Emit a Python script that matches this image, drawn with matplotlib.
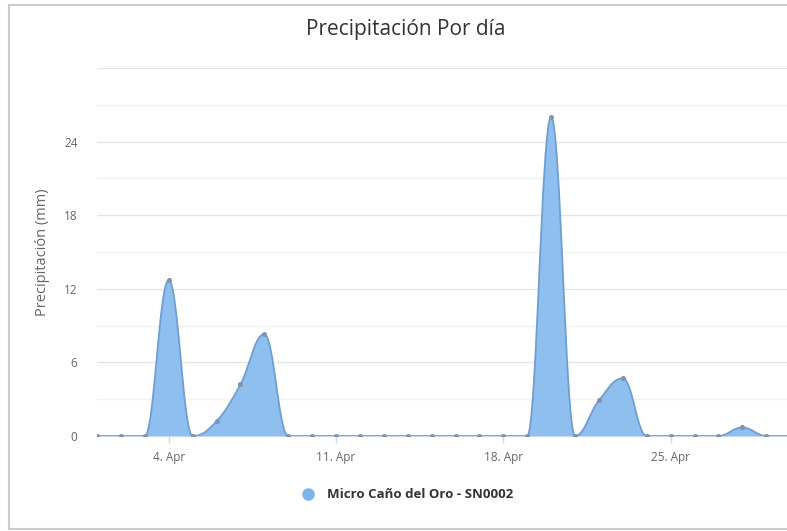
import numpy as np
import matplotlib
matplotlib.use("Agg")
import matplotlib.pyplot as plt
from matplotlib.path import Path
from matplotlib.patches import PathPatch
from matplotlib.lines import Line2D

plt.rcParams['font.family'] = ['Open Sans', 'DejaVu Sans']

# Daily precipitation, April (day of month -> mm)
days = list(range(1, 31))
precip = [0, 0, 0, 12.7, 0, 1.2, 4.2, 8.3, 0, 0,
          0, 0, 0, 0, 0, 0, 0, 0, 0, 26.0,
          0, 2.9, 4.7, 0, 0, 0, 0, 0.7, 0, 0]
tick_days = [4, 11, 18, 25]
tick_labels = ["4. Apr", "11. Apr", "18. Apr", "25. Apr"]
series_name = "Micro Caño del Oro - SN0002"

FILL = "#8fbfee"
LINE = "#6e9fd3"


def spline_path(xs, ys, sx, sy, smoothing=1.5):
    """Bezier spline like the one the web chart uses (control points in pixel space)."""
    px = np.asarray(xs, float) * sx
    py = np.asarray(ys, float) * sy
    n = len(px)
    left = [(px[i], py[i]) for i in range(n)]
    right = [(px[i], py[i]) for i in range(n)]
    d = smoothing + 1
    for i in range(1, n - 1):
        lx, ly = px[i - 1], py[i - 1]
        nx, ny = px[i + 1], py[i + 1]
        x, y = px[i], py[i]
        lcx, lcy = (smoothing * x + lx) / d, (smoothing * y + ly) / d
        rcx, rcy = (smoothing * x + nx) / d, (smoothing * y + ny) / d
        corr = 0
        if rcx != lcx:
            corr = (rcy - lcy) * (rcx - x) / (rcx - lcx) + y - rcy
        lcy += corr
        rcy += corr
        if lcy > ly and lcy > y:
            lcy = max(ly, y); rcy = 2 * y - lcy
        elif lcy < ly and lcy < y:
            lcy = min(ly, y); rcy = 2 * y - lcy
        if rcy > ny and rcy > y:
            rcy = max(ny, y); lcy = 2 * y - rcy
        elif rcy < ny and rcy < y:
            rcy = min(ny, y); lcy = 2 * y - rcy
        left[i] = (lcx, lcy)
        right[i] = (rcx, rcy)
    verts = [(px[0], py[0])]
    codes = [Path.MOVETO]
    for i in range(1, n):
        verts += [right[i - 1], left[i], (px[i], py[i])]
        codes += [Path.CURVE4] * 3
    verts = [(vx / sx, vy / sy) for vx, vy in verts]
    return verts, codes


fig = plt.figure(figsize=(7.87, 5.31), dpi=100)
W, H = 787, 531
ax = fig.add_axes([97 / W, 1 - 436 / H, (787 - 97) / W, (436 - 68) / H])

verts, codes = spline_path(days, precip, 23.9, 12.33)

# filled area
fill_verts = verts + [(days[-1], 0), (days[0], 0), verts[0]]
fill_codes = codes + [Path.LINETO, Path.LINETO, Path.CLOSEPOLY]
ax.add_patch(PathPatch(Path(fill_verts, fill_codes), facecolor=FILL, edgecolor="none", zorder=2))
ax.add_patch(PathPatch(Path(verts, codes), facecolor="none", edgecolor=LINE, lw=1.3, zorder=3))
ax.plot(days, precip, "o", ms=2.6, color="#7f94ad", zorder=4, clip_on=True)

ax.set_xlim(1, 29.87)
ax.set_ylim(0, 30)

# grid
for v in np.arange(3, 31, 3):
    ax.axhline(v, color="#e6e6e6" if v % 6 == 0 else "#f2f2f2", lw=1, zorder=0)

ax.set_yticks([0, 6, 12, 18, 24])
ax.set_xticks(tick_days)
ax.set_xticklabels(tick_labels)
ax.tick_params(axis="y", length=0, pad=14, labelsize=8.5, labelcolor="#666666")
ax.tick_params(axis="x", length=5, width=1, color="#ccd6eb", pad=6, labelsize=8.5, labelcolor="#666666")
for s in ["top", "right", "left"]:
    ax.spines[s].set_visible(False)
ax.spines["bottom"].set_color("#ccd6eb")
ax.set_ylabel("Precipitación (mm)", fontsize=10.5, color="#666666", labelpad=10)

fig.text(406 / W, 1 - 30 / H, "Precipitación Por día", ha="center", va="center",
         fontsize=15, color="#333333")

handle = Line2D([], [], marker="o", ls="none", ms=8, color="#7cb5ec")
leg = ax.legend([handle], [series_name], loc="center", bbox_to_anchor=(404 / W, 1 - 495 / H),
                bbox_transform=fig.transFigure, frameon=False, handletextpad=0.4,
                prop={"size": 9.5, "weight": "bold"})
for t in leg.get_texts():
    t.set_color("#333333")

# outer frame of the chart container (right side cut off by the screenshot)
x0, yt, yb = 9 / W, 1 - 5 / H, 1 - 529 / H
frame = dict(transform=fig.transFigure, color="#cccccc", lw=1.5)
fig.add_artist(Line2D([x0, x0], [yb, yt], **frame))
fig.add_artist(Line2D([x0, 1], [yt, yt], **frame))
fig.add_artist(Line2D([x0, 1], [yb, yb], **frame))

fig.savefig("out.png", dpi=100, facecolor="white")
